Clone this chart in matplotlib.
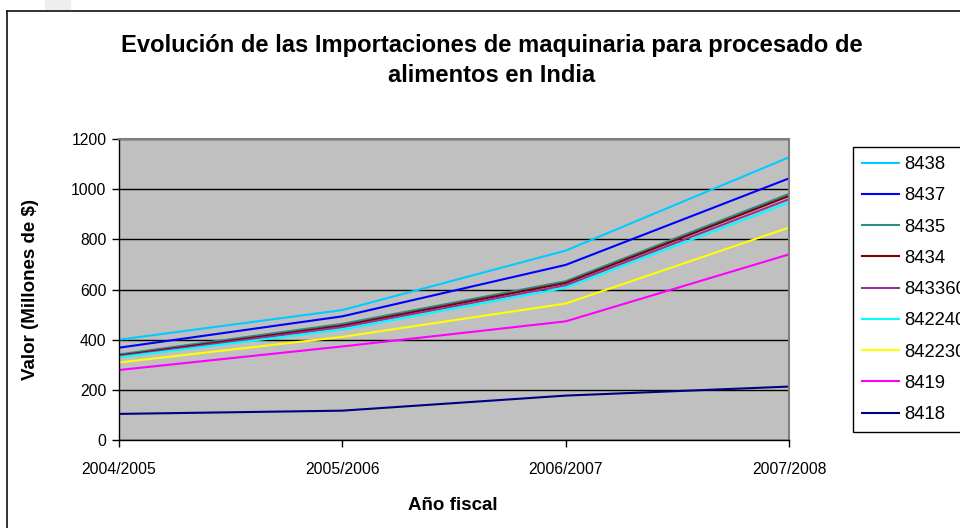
import matplotlib.pyplot as plt
from matplotlib.lines import Line2D
from matplotlib.patches import Rectangle

plt.rcParams['font.family'] = ['Liberation Sans', 'DejaVu Sans']

years = ['2004/2005', '2005/2006', '2006/2007', '2007/2008']
codes = ['8438', '8437', '8435', '8434', '843360', '842240', '842230', '8419', '8418']
v_8438 = [400, 518, 755, 1127]
v_8437 = [368, 493, 698, 1043]
v_8435 = [341, 463, 633, 981]
v_8434 = [336, 456, 626, 973]
v_843360 = [333, 450, 617, 960]
v_842240 = [330, 440, 607, 947]
v_842230 = [309, 411, 544, 847]
v_8419 = [279, 373, 473, 740]
v_8418 = [104, 117, 177, 213]
colors = ['#00ccff', '#0000ff', '#2e8b8b', '#800000', '#993399',
          '#00ffff', '#ffff00', '#ff00ff', '#000080']

series = [v_8438, v_8437, v_8435, v_8434, v_843360, v_842240, v_842230, v_8419, v_8418]

W, H = 960, 528
fig = plt.figure(figsize=(W / 100, H / 100), dpi=100)
fig.patch.set_facecolor('white')

# chart border (runs off the right and bottom of the picture, as in the source)
fig.add_artist(Line2D([7 / W, 7 / W], [-0.1, 1 - 11 / H], transform=fig.transFigure,
                      color='#222222', lw=1.3))
fig.add_artist(Line2D([7 / W, 1.1], [1 - 11 / H, 1 - 11 / H], transform=fig.transFigure,
                      color='#222222', lw=1.3))
fig.add_artist(Rectangle((45 / W, 1 - 10 / H), 26 / W, 10 / H, transform=fig.transFigure,
                         facecolor='#efedf0', edgecolor='none'))

ax = fig.add_axes([119 / W, 88 / H, 670 / W, 301 / H])
ax.set_facecolor('#c0c0c0')

x = list(range(len(years)))
handles = []
for code, vals, c in zip(codes, series, colors):
    h, = ax.plot(x, vals, color=c, lw=1.5, label=code, solid_joinstyle='miter')
    handles.append(h)

ax.set_xlim(0, 3)
ax.set_ylim(0, 1200)
ax.set_yticks(range(0, 1201, 200))
ax.set_xticks(x)
ax.set_xticklabels(years)
ax.grid(axis='y', color='black', lw=1)
ax.set_axisbelow(True)
ax.tick_params(axis='both', labelsize=11.3, length=5, width=1, color='black', direction='out', pad=4)
ax.tick_params(axis='x', pad=11)

for s in ['top', 'right']:
    ax.spines[s].set_color('#808080')
    ax.spines[s].set_linewidth(1.5)
for s in ['left', 'bottom']:
    ax.spines[s].set_color('black')
    ax.spines[s].set_linewidth(1)

ax.set_ylabel('Valor (Millones de $)', fontsize=13.5, fontweight='bold')
ax.set_xlabel('Año fiscal', fontsize=13.5, fontweight='bold')
ax.yaxis.set_label_coords(-89 / 670, 0.5)
ax.xaxis.set_label_coords(334 / 670, -66 / 301)
ax.xaxis.label.set_va('center')
ax.yaxis.label.set_va('center')

fig.text(492 / W, 1 - 60.5 / H,
         'Evolución de las Importaciones de maquinaria para procesado de\nalimentos en India',
         ha='center', va='center', fontsize=17.1, fontweight='bold', linespacing=1.38)

leg = ax.legend(handles=handles, loc='upper left', bbox_to_anchor=(853 / W, 1 - 147 / H),
                bbox_transform=fig.transFigure, fontsize=13.3, frameon=True, fancybox=False,
                edgecolor='black', framealpha=1, handlelength=2.0, handletextpad=0.25,
                labelspacing=0.77, borderpad=0.5, borderaxespad=0)
leg.get_frame().set_linewidth(1)
for line in leg.get_lines():
    line.set_linewidth(1.5)

fig.savefig('out.png', dpi=100)
